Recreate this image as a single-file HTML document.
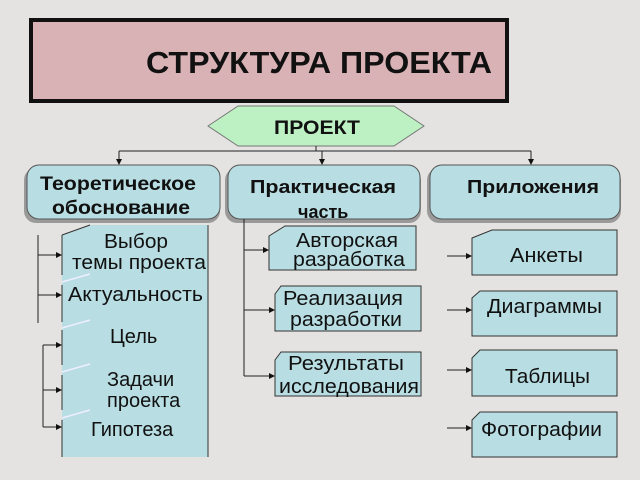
<!DOCTYPE html>
<html><head><meta charset="utf-8"><style>
html,body{margin:0;padding:0;background:#e4e3e1;}
svg{display:block}
text{font-family:"Liberation Sans","DejaVu Sans",sans-serif;fill:#111}
</style></head><body>
<svg width="640" height="480" viewBox="0 0 640 480" xmlns="http://www.w3.org/2000/svg">
<defs>
<marker id="a" markerWidth="6" markerHeight="6" refX="5" refY="3" orient="auto" markerUnits="userSpaceOnUse"><path d="M0,0 L6,3 L0,6 z" fill="#111"/></marker>
</defs>
<rect width="640" height="480" fill="#e4e3e1"/>
<rect x="31" y="20" width="476" height="81" fill="#d9b2b5" stroke="#111" stroke-width="4"/>
<text x="146" y="73" font-size="31" font-weight="bold" textLength="346" lengthAdjust="spacingAndGlyphs">СТРУКТУРА ПРОЕКТА</text>
<polygon points="208,126 238,106 394,106 424,126 394,146 238,146" fill="#bdf0c2" stroke="#777" stroke-width="1"/>
<text x="274" y="134" font-size="19" font-weight="bold" textLength="86" lengthAdjust="spacingAndGlyphs">ПРОЕКТ</text>
<path d="M316,146 V151 M119,151 H531" stroke="#222" fill="none"/>
<line x1="119" y1="151" x2="119" y2="164" stroke="#222" marker-end="url(#a)"/>
<line x1="322" y1="151" x2="322" y2="164" stroke="#222" marker-end="url(#a)"/>
<line x1="531" y1="151" x2="531" y2="164" stroke="#222" marker-end="url(#a)"/>
<g fill="#9a9a9a"><rect x="24" y="168" width="196" height="55" rx="12"/><rect x="225" y="168" width="196" height="55" rx="12"/><rect x="427" y="168" width="194" height="55" rx="12"/></g>
<g fill="#b8dde2" stroke="#555" stroke-width="1"><rect x="27" y="165" width="193" height="54" rx="12"/><rect x="228" y="165" width="192" height="54" rx="12"/><rect x="430" y="165" width="190" height="54" rx="12"/></g>
<text x="40" y="190" font-size="19" font-weight="bold" textLength="156" lengthAdjust="spacingAndGlyphs">Теоретическое</text>
<text x="52" y="214" font-size="19" font-weight="bold" textLength="138" lengthAdjust="spacingAndGlyphs">обоснование</text>
<text x="250" y="193" font-size="18" font-weight="bold" textLength="146" lengthAdjust="spacingAndGlyphs">Практическая</text>
<text x="298" y="218" font-size="18" font-weight="bold">часть</text>
<text x="467" y="193" font-size="18" font-weight="bold" textLength="132" lengthAdjust="spacingAndGlyphs">Приложения</text>
<path d="M62,235 L90,225 H208 V457 H62 Z" fill="#b8dde2"/>
<line x1="208" y1="225" x2="208" y2="457" stroke="#333"/>
<g stroke="#eef" stroke-width="1.5" fill="none">
<path d="M62,282 L90,274"/><path d="M62,328 L90,320"/><path d="M62,372 L90,364"/><path d="M62,418 L90,410"/>
</g>
<g stroke="#333" fill="none"><path d="M62,235 L90,225"/><path d="M62,235 V275"/><path d="M62,285 V322"/><path d="M62,330 V365"/><path d="M62,375 V410"/><path d="M62,420 V457"/></g>
<g font-size="20">
<text x="104" y="248" textLength="64" lengthAdjust="spacingAndGlyphs">Выбор</text>
<text x="72" y="269" textLength="134" lengthAdjust="spacingAndGlyphs">темы проекта</text>
<text x="68" y="301" textLength="135" lengthAdjust="spacingAndGlyphs">Актуальность</text>
<text x="110" y="343">Цель</text>
<text x="107" y="386">Задачи</text>
<text x="107" y="407">проекта</text>
<text x="91" y="436">Гипотеза</text>
</g>
<g stroke="#222" fill="none">
<path d="M38,235 V323"/><path d="M43,345 V427"/>
<line x1="38" y1="255" x2="61" y2="255" marker-end="url(#a)"/>
<line x1="38" y1="295" x2="61" y2="295" marker-end="url(#a)"/>
<line x1="43" y1="345" x2="61" y2="345" marker-end="url(#a)"/>
<line x1="43" y1="390" x2="61" y2="390" marker-end="url(#a)"/>
<line x1="43" y1="427" x2="61" y2="427" marker-end="url(#a)"/>
</g>
<g fill="#b8dde2" stroke="#333">
<path d="M269,236 L285,226 H416 V270 H269 Z"/>
<path d="M275,294 L281,286 H421 V331 H275 Z"/>
<path d="M275,360 L281,352 H421 V396 H275 Z"/>
</g>
<g font-size="20">
<text x="296" y="247" textLength="102" lengthAdjust="spacingAndGlyphs">Авторская</text>
<text x="293" y="266" textLength="112" lengthAdjust="spacingAndGlyphs">разработка</text>
<text x="283" y="305" textLength="120" lengthAdjust="spacingAndGlyphs">Реализация</text>
<text x="290" y="326" textLength="112" lengthAdjust="spacingAndGlyphs">разработки</text>
<text x="288" y="370" textLength="116" lengthAdjust="spacingAndGlyphs">Результаты</text>
<text x="279" y="393" textLength="140" lengthAdjust="spacingAndGlyphs">исследования</text>
</g>
<g stroke="#222" fill="none">
<path d="M244,219 V376"/>
<line x1="244" y1="250" x2="268" y2="250" marker-end="url(#a)"/>
<line x1="244" y1="310" x2="274" y2="310" marker-end="url(#a)"/>
<line x1="244" y1="376" x2="274" y2="376" marker-end="url(#a)"/>
</g>
<g fill="#b8dde2" stroke="#333">
<path d="M472,238 L492,230 H617 V275 H472 Z"/>
<path d="M472,298 L480,291 H617 V336 H472 Z"/>
<path d="M472,358 L480,350 H617 V396 H472 Z"/>
<path d="M472,420 L480,412 H617 V457 H472 Z"/>
</g>
<g font-size="20">
<text x="510" y="262" textLength="73" lengthAdjust="spacingAndGlyphs">Анкеты</text>
<text x="487" y="313" textLength="115" lengthAdjust="spacingAndGlyphs">Диаграммы</text>
<text x="505" y="383" textLength="85" lengthAdjust="spacingAndGlyphs">Таблицы</text>
<text x="481" y="436" textLength="121" lengthAdjust="spacingAndGlyphs">Фотографии</text>
</g>
<g stroke="#222">
<line x1="447" y1="256" x2="471" y2="256" marker-end="url(#a)"/>
<line x1="447" y1="310" x2="471" y2="310" marker-end="url(#a)"/>
<line x1="447" y1="370" x2="471" y2="370" marker-end="url(#a)"/>
<line x1="447" y1="428" x2="471" y2="428" marker-end="url(#a)"/>
</g>
</svg>
</body></html>
